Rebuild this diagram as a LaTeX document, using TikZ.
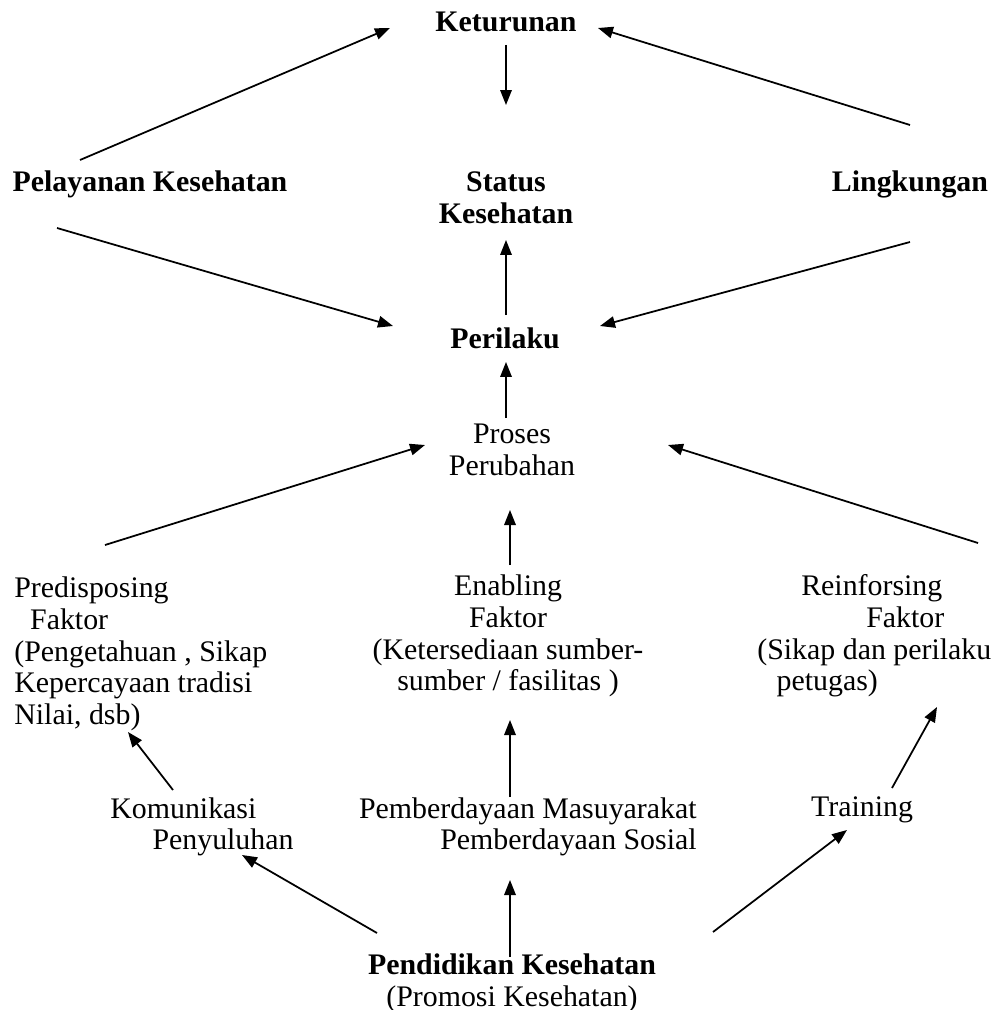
\documentclass[tikz,border=0pt]{standalone}
\usepackage{fontspec}
\setmainfont{Liberation Serif}
\usetikzlibrary{arrows.meta}
\tikzset{
    lbl/.style={inner sep=0pt, font=\fontsize{17}{18}\selectfont},
    blbl/.style={lbl, font=\fontsize{17}{18}\selectfont\bfseries},
    arr/.style={-{Triangle[length=3mm,width=2.3mm]}, line width=1pt}
}
\begin{document}
\begin{tikzpicture}[x=0.02cm, y=0.02cm]
        \useasboundingbox (0,0) rectangle (998,-1010);
        \node[blbl] (ket) at (506,-22) {Keturunan};
        \node[blbl] (pel) at (150,-184) {Pelayanan Kesehatan};
        \node[blbl, align=center] (stat) at (506,-198) {Status\\Kesehatan};
        \node[blbl] (ling) at (910,-184) {Lingkungan};
        \node[blbl] (peri) at (505,-338) {Perilaku};
        \node[lbl, align=center] (pros) at (512,-450) {Proses\\Perubahan};
        \node[lbl, align=left, anchor=west] (pre) at (14,-654)
        {Predisposing\\
         \hspace*{9pt}Faktor\\
         (Pengetahuan , Sikap\\
         Kepercayaan tradisi\\
         Nilai, dsb)};
        \node[lbl, align=center] (enab) at (508,-636)
        {Enabling\\
         Faktor\\
         (Ketersediaan sumber-\\
         sumber / fasilitas )};
        \node[lbl, align=left, anchor=west] (rein) at (757,-636)
        {\hspace*{25pt}Reinforsing\\
         \hspace*{62pt}Faktor\\
         (Sikap dan perilaku\\
         \hspace*{11pt}petugas)};
        \node[lbl, align=left, anchor=west] (kom) at (110,-827)
        {Komunikasi\\ \hspace*{24pt}Penyuluhan};
        \node[lbl, align=right, anchor=east] (pemb) at (697,-827)
        {Pemberdayaan Masuyarakat\\ Pemberdayaan Sosial};
        \node[lbl] (train) at (862,-810) {Training};
        \node[lbl, align=center] (pend) at (512,-983)
        {\textbf{Pendidikan Kesehatan}\\ (Promosi Kesehatan)};
        % top part
        \draw[arr] ([shift={(-70,24)}]pel.center) -- ([shift={(-116,-6)}]ket.center);
        \draw[arr] ([shift={(0,59)}]ling.center) -- ([shift={(92,-6)}]ket.center);
        \draw[arr] ([shift={(0,-23)}]ket.center) -- ([shift={(0,93)}]stat.center);
        \draw[arr] ([shift={(-93,-44)}]pel.center) -- ([shift={(-112,12)}]peri.center);
        \draw[arr] ([shift={(0,-58)}]ling.center) -- ([shift={(95,12)}]peri.center);
        \draw[arr] ([shift={(1,23)}]peri.center) -- ([shift={(0,-42)}]stat.center);
        \draw[arr] ([shift={(-6,32)}]pros.center) -- ([shift={(1,-24)}]peri.center);
        % faktor
        \draw[arr] ([shift={(91,109)}]pre.west) -- ([shift={(-87,5)}]pros.center);
        \draw[arr] ([shift={(221,93)}]rein.west) -- ([shift={(156,5)}]pros.center);
        \draw[arr] ([shift={(2,71)}]enab.center) -- ([shift={(-2,-60)}]pros.center);
        \draw[arr] ([shift={(63,37)}]kom.west) -- ([shift={(114,-78)}]pre.west);
        \draw[arr] ([shift={(-187,30)}]pemb.east) -- ([shift={(2,-84)}]enab.center);
        \draw[arr] ([shift={(30,22)}]train.center) -- ([shift={(180,-71)}]rein.west);
        % pendidikan kesehatan
        \draw[arr] ([shift={(-135,50)}]pend.center) -- ([shift={(132,-28)}]kom.west);
        \draw[arr] ([shift={(-2,26)}]pend.center) -- ([shift={(-187,-53)}]pemb.east);
        \draw[arr] ([shift={(201,51)}]pend.center) -- ([shift={(-15,-20)}]train.center);
\end{tikzpicture}
\end{document}
